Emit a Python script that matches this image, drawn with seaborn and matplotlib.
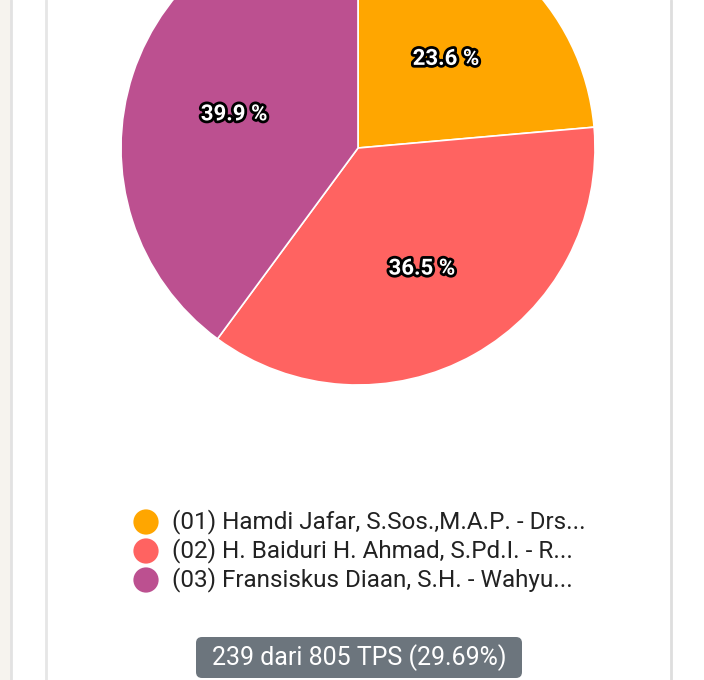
import matplotlib
matplotlib.use("Agg")
import matplotlib.pyplot as plt
import matplotlib.patheffects as pe
from matplotlib.patches import FancyBboxPatch, Rectangle
import seaborn as sns
import pandas as pd

# ---- data ----
candidates = [
    "(01) Hamdi Jafar, S.Sos.,M.A.P. - Drs...",
    "(02) H. Baiduri H. Ahmad, S.Pd.I. - R...",
    "(03) Fransiskus Diaan, S.H. - Wahyu...",
]
shares = [23.6, 36.5, 39.9]
colors = ["#ffa600", "#ff6361", "#bc5090"]
badge_text = "239 dari 805 TPS (29.69%)"

sns.set_theme(style="white")
plt.rcParams["font.family"] = ["Roboto", "DejaVu Sans"]

W, H = 704, 680
fig = plt.figure(figsize=(W / 100, H / 100), dpi=100)
fig.patch.set_facecolor("white")
ax = fig.add_axes([0, 0, 1, 1])

def Y(py):
    return H - py

# background / card borders
ax.add_patch(Rectangle((0, 0), 11, H, facecolor="#f6f3ee", edgecolor="none", zorder=0))
ax.plot([11, 11], [0, H], color="#e2e2e2", lw=2, zorder=1)
ax.plot([45.5, 45.5], [0, H], color="#e6e6e6", lw=2, zorder=1)
ax.plot([671, 671], [0, H], color="#dedede", lw=2, zorder=1)

# pie
wedges, texts, autotexts = ax.pie(
    shares,
    colors=colors,
    startangle=90,
    counterclock=False,
    center=(358, Y(148)),
    radius=237,
    autopct="%.1f %%",
    pctdistance=0.55,
    wedgeprops=dict(edgecolor="white", linewidth=1.2),
    textprops=dict(color="white", fontsize=16, fontweight="bold"),
    frame=True,
)
for t in autotexts:
    x0, y0 = t.get_position()
    t.set_position((x0, y0 - 7))
    t.set_path_effects([pe.withStroke(linewidth=4, foreground="black")])
ax.set_xlim(0, W)
ax.set_ylim(0, H)
ax.axis("off")

# legend via seaborn scatter
leg_y = [522, 551, 580]
df = pd.DataFrame({"x": [146] * 3, "y": [Y(v) for v in leg_y], "cand": candidates})
sns.scatterplot(data=df, x="x", y="y", hue="cand", palette=colors, s=330,
                edgecolor="none", legend=False, ax=ax, zorder=5)
for yy, lab in zip(leg_y, candidates):
    ax.text(172, Y(yy), lab, fontsize=17.5, color="#222222", va="center", ha="left")
ax.set_xlim(0, W)
ax.set_ylim(0, H)
ax.axis("off")

# badge
ax.add_patch(FancyBboxPatch((196, Y(678)), 326, 41,
                            boxstyle="round,pad=0,rounding_size=6",
                            facecolor="#6c757d", edgecolor="none", zorder=5))
ax.text(359, Y(658), badge_text, fontsize=18, color="white",
        ha="center", va="center", zorder=6)

fig.savefig("out.png", dpi=100, facecolor="white")
